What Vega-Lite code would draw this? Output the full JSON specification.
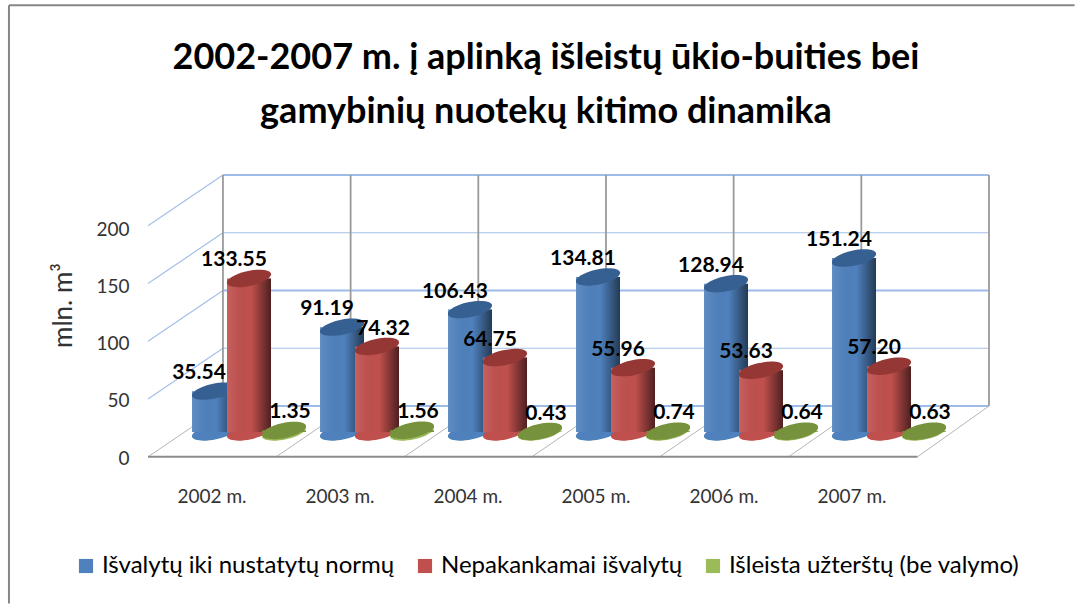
{"$schema":"https://vega.github.io/schema/vega-lite/v6.json","width":766,"height":231,"autosize":{"type":"none"},"padding":{"left":223,"top":175,"right":86,"bottom":198},"background":"white","config":{"view":{"stroke":null},"font":"Lato"},
"title":{"text":["2002-2007 m. į aplinką išleistų ūkio-buities bei","gamybinių nuotekų kitimo dinamika"],"font":"Lato","fontSize":36,"fontWeight":"bold","color":"#000000","anchor":"middle","frame":"group","dx":-60,"lineHeight":54,"offset":-130},
"datasets":{"rows":[
{"year":"2002 m.","series":"Išvalytų iki nustatytų normų","value":35.54},{"year":"2002 m.","series":"Nepakankamai išvalytų","value":133.55},{"year":"2002 m.","series":"Išleista užterštų (be valymo)","value":1.35},
{"year":"2003 m.","series":"Išvalytų iki nustatytų normų","value":91.19},{"year":"2003 m.","series":"Nepakankamai išvalytų","value":74.32},{"year":"2003 m.","series":"Išleista užterštų (be valymo)","value":1.56},
{"year":"2004 m.","series":"Išvalytų iki nustatytų normų","value":106.43},{"year":"2004 m.","series":"Nepakankamai išvalytų","value":64.75},{"year":"2004 m.","series":"Išleista užterštų (be valymo)","value":0.43},
{"year":"2005 m.","series":"Išvalytų iki nustatytų normų","value":134.81},{"year":"2005 m.","series":"Nepakankamai išvalytų","value":55.96},{"year":"2005 m.","series":"Išleista užterštų (be valymo)","value":0.74},
{"year":"2006 m.","series":"Išvalytų iki nustatytų normų","value":128.94},{"year":"2006 m.","series":"Nepakankamai išvalytų","value":53.63},{"year":"2006 m.","series":"Išleista užterštų (be valymo)","value":0.64},
{"year":"2007 m.","series":"Išvalytų iki nustatytų normų","value":151.24},{"year":"2007 m.","series":"Nepakankamai išvalytų","value":57.2},{"year":"2007 m.","series":"Išleista užterštų (be valymo)","value":0.63}],
"frame":[
{"part":"border","edge":"b1","across":-1.676,"level":-171},{"part":"border","edge":"b1","across":-1.676,"level":347},
{"part":"border","edge":"b2","across":-1.676,"level":347},{"part":"border","edge":"b2","across":6.67,"level":347},
{"part":"grid","edge":"h50","across":0,"level":50},{"part":"grid","edge":"h50","across":6,"level":50},
{"part":"thick","edge":"h100","across":0,"level":100},{"part":"thick","edge":"h100","across":6,"level":100},
{"part":"grid","edge":"h150","across":0,"level":150},{"part":"grid","edge":"h150","across":6,"level":150},
{"part":"thick","edge":"h200","across":0,"level":200},{"part":"thick","edge":"h200","across":6,"level":200},
{"part":"thick","edge":"h0","across":0,"level":0},{"part":"thick","edge":"h0","across":6,"level":0},
{"part":"grid","edge":"s50","across":-0.587,"level":6},{"part":"grid","edge":"s50","across":0,"level":50},
{"part":"grid","edge":"s100","across":-0.587,"level":56},{"part":"grid","edge":"s100","across":0,"level":100},
{"part":"grid","edge":"s150","across":-0.587,"level":106},{"part":"grid","edge":"s150","across":0,"level":150},
{"part":"grid","edge":"s200","across":-0.587,"level":156},{"part":"grid","edge":"s200","across":0,"level":200},
{"part":"wall","edge":"v0","across":0,"level":0},{"part":"wall","edge":"v0","across":0,"level":200},
{"part":"wall","edge":"v1","across":1,"level":0},{"part":"wall","edge":"v1","across":1,"level":200},
{"part":"wall","edge":"v2","across":2,"level":0},{"part":"wall","edge":"v2","across":2,"level":200},
{"part":"wall","edge":"v3","across":3,"level":0},{"part":"wall","edge":"v3","across":3,"level":200},
{"part":"wall","edge":"v4","across":4,"level":0},{"part":"wall","edge":"v4","across":4,"level":200},
{"part":"wall","edge":"v5","across":5,"level":0},{"part":"wall","edge":"v5","across":5,"level":200},
{"part":"wall","edge":"v6","across":6,"level":0},{"part":"wall","edge":"v6","across":6,"level":200},
{"part":"floor","edge":"f0","across":-0.587,"level":-44},{"part":"floor","edge":"f0","across":0,"level":0},
{"part":"floor","edge":"f1","across":0.417,"level":-44},{"part":"floor","edge":"f1","across":1,"level":0},
{"part":"floor","edge":"f2","across":1.42,"level":-44},{"part":"floor","edge":"f2","across":2,"level":0},
{"part":"floor","edge":"f3","across":2.42,"level":-44},{"part":"floor","edge":"f3","across":3,"level":0},
{"part":"floor","edge":"f4","across":3.42,"level":-44},{"part":"floor","edge":"f4","across":4,"level":0},
{"part":"floor","edge":"f5","across":4.43,"level":-44},{"part":"floor","edge":"f5","across":5,"level":0},
{"part":"floor","edge":"f6","across":5.44,"level":-44},{"part":"floor","edge":"f6","across":6,"level":0},
{"part":"front","edge":"e0","across":-0.587,"level":-44},{"part":"front","edge":"e0","across":5.44,"level":-44}]},
"resolve":{"scale":{"x":"independent","y":"independent"},"axis":{"x":"independent","y":"independent"}},
"layer":[
{"data":{"name":"frame"},
 "encoding":{"x":{"field":"across","type":"quantitative","axis":null,"scale":{"domain":[-0.587,6],"range":[-75,766],"nice":false,"zero":false}},
 "y":{"field":"level","type":"quantitative","axis":null,"scale":{"domain":[0,200],"range":[231,0],"nice":false,"zero":false}},
 "detail":{"field":"edge"}},
 "layer":[
 {"transform":[{"filter":"datum.part==='border'"}],"mark":{"type":"line","color":"#868686","strokeWidth":2}},
 {"transform":[{"filter":"datum.part==='grid'"}],"mark":{"type":"line","color":"#a3c0e8","strokeWidth":1.2}},
 {"transform":[{"filter":"datum.part==='thick'"}],"mark":{"type":"line","color":"#9dbce8","strokeWidth":2.2}},
 {"transform":[{"filter":"datum.part==='wall'"}],"mark":{"type":"line","color":"#9a9a9a","strokeWidth":1.8}},
 {"transform":[{"filter":"datum.part==='floor'"}],"mark":{"type":"line","color":"#b5b5b5","strokeWidth":1}},
 {"transform":[{"filter":"datum.part==='front'"}],"mark":{"type":"line","color":"#8c8c8c","strokeWidth":2}}
 ]},
{"data":{"name":"rows"},"mark":{"type":"tick","opacity":0},
 "encoding":{"x":{"field":"year","type":"nominal","title":null,"scale":{"range":[-75,693],"paddingInner":0,"paddingOuter":0},"axis":{"orient":"bottom","domain":false,"ticks":false,"grid":false,"labelAngle":0,"labelFont":"Lato","labelFontSize":19,"labelColor":"#333333","labelPadding":81}},
 "y":{"field":"value","type":"quantitative","stack":null,"scale":{"domain":[0,200],"range":[283,54],"nice":false},"axis":{"orient":"left","values":[0,50,100,150,200],"domain":false,"ticks":false,"grid":false,"labelFont":"Lato","labelFontSize":19,"labelColor":"#333333","labelPadding":94,"title":"mln. m³","titleFont":"Lato","titleFontSize":26,"titleFontWeight":"normal","titleColor":"#333333","titleAngle":-90,"titleX":-147,"titleY":130,"titleAlign":"center"}}}},
{"data":{"name":"rows"},
 "encoding":{"x":{"field":"year","type":"nominal","axis":null,"scale":{"range":[-38,730],"paddingInner":0.18,"paddingOuter":0.09}},
 "xOffset":{"field":"series","type":"nominal","sort":null,"scale":{"domain":["Išvalytų iki nustatytų normų","Nepakankamai išvalytų","Išleista užterštų (be valymo)"]}},
 "y":{"field":"value","type":"quantitative","stack":null,"axis":null,"scale":{"domain":[0,200],"range":[257,27],"nice":false}}},
 "layer":[
 {"transform":[{"filter":"datum.series==='Išvalytų iki nustatytų normų'"}],"layer":[
  {"mark":{"type":"point","shape":"M-1,0.22A1.02,0.34,-12,1,1,1,-0.22A1.02,0.34,-12,1,1,-1,0.22Z","filled":true,"size":1936,"fill":"#4F81BD","opacity":1,"strokeWidth":0},"encoding":{"y":{"datum":0}}},
  {"mark":{"type":"bar","size":44},"encoding":{"color":{"field":"series","type":"nominal","sort":null,"scale":{"domain":["Išvalytų iki nustatytų normų","Nepakankamai išvalytų","Išleista užterštų (be valymo)"],"range":["#4F81BD","#C0504D","#9BBB59"]},"legend":{"orient":"none","legendX":-149,"legendY":379,"direction":"horizontal","columns":3,"title":null,"symbolType":"square","symbolSize":200,"symbolStrokeWidth":0,"labelFont":"Lato","labelFontSize":24,"labelColor":"#000000","labelLimit":400,"columnPadding":18,"symbolOffset":0}}}},
  {"mark":{"type":"bar","size":44,"fill":{"x1":0,"y1":0,"x2":1,"y2":0,"gradient":"linear","stops":[{"offset":0,"color":"rgba(255,255,255,0.1)"},{"offset":0.55,"color":"rgba(0,0,0,0)"},{"offset":1,"color":"rgba(0,0,0,0.55)"}]}}},
  {"mark":{"type":"point","shape":"M-1,0.22A1.02,0.34,-12,1,1,1,-0.22A1.02,0.34,-12,1,1,-1,0.22Z","filled":true,"size":1936,"fill":"#376092","opacity":1,"strokeWidth":0}}]},
 {"transform":[{"filter":"datum.series==='Nepakankamai išvalytų'"}],"layer":[
  {"mark":{"type":"point","shape":"M-1,0.22A1.02,0.34,-12,1,1,1,-0.22A1.02,0.34,-12,1,1,-1,0.22Z","filled":true,"size":1936,"fill":"#C0504D","opacity":1,"strokeWidth":0},"encoding":{"y":{"datum":0}}},
  {"mark":{"type":"bar","size":44,"color":"#C0504D"}},
  {"mark":{"type":"bar","size":44,"fill":{"x1":0,"y1":0,"x2":1,"y2":0,"gradient":"linear","stops":[{"offset":0,"color":"rgba(255,255,255,0.1)"},{"offset":0.55,"color":"rgba(0,0,0,0)"},{"offset":1,"color":"rgba(0,0,0,0.6)"}]}}},
  {"mark":{"type":"point","shape":"M-1,0.22A1.02,0.34,-12,1,1,1,-0.22A1.02,0.34,-12,1,1,-1,0.22Z","filled":true,"size":1936,"fill":"#953735","opacity":1,"strokeWidth":0}}]},
 {"transform":[{"filter":"datum.series==='Išleista užterštų (be valymo)'"}],"layer":[
  {"mark":{"type":"point","shape":"M-1,0.22A1.02,0.34,-12,1,1,1,-0.22A1.02,0.34,-12,1,1,-1,0.22Z","filled":true,"size":1936,"fill":"#9BBB59","opacity":1,"strokeWidth":0},"encoding":{"y":{"datum":0}}},
  {"mark":{"type":"bar","size":44,"color":"#76923C"}},
  {"mark":{"type":"point","shape":"M-1,0.22A1.02,0.34,-12,1,1,1,-0.22A1.02,0.34,-12,1,1,-1,0.22Z","filled":true,"size":1936,"fill":"#76923C","opacity":1,"strokeWidth":0}}]},
 {"transform":[{"filter":"datum.series!=='Išleista užterštų (be valymo)' && datum.value!==74.32"}],"mark":{"type":"text","font":"Lato","fontSize":21,"fontWeight":"bold","color":"#000000","dx":-15,"dy":-18,"baseline":"middle"},"encoding":{"text":{"field":"value","type":"quantitative","format":".2f"}}},
 {"transform":[{"filter":"datum.series==='Išleista užterštų (be valymo)' || datum.value===74.32"}],"mark":{"type":"text","font":"Lato","fontSize":21,"fontWeight":"bold","color":"#000000","dx":6,"dy":-18,"baseline":"middle"},"encoding":{"text":{"field":"value","type":"quantitative","format":".2f"}}}
 ]}
]}
